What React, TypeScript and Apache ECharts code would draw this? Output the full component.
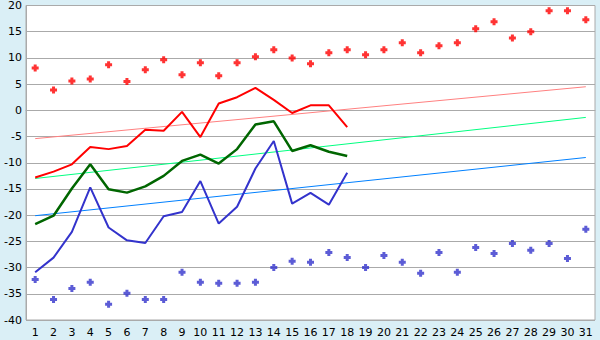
import React, { useEffect, useRef } from "react";
import * as echarts from "echarts";

const categories = Array.from({ length: 31 }, (_, i) => String(i + 1));

const redPoints = [8.1, 3.9, 5.6, 6.0, 8.7, 5.5, 7.75, 9.65, 6.8, 9.1, 6.6, 9.1, 10.2, 11.55, 10.0, 8.9, 11.0, 11.55, 10.6, 11.55, 12.9, 11.0, 12.3, 12.9, 15.55, 16.9, 13.8, 15.0, 19.0, 19.0, 17.3];
const bluePoints = [-32.25, -36.1, -34.0, -32.8, -37.0, -34.9, -36.1, -36.1, -30.9, -32.8, -33.0, -33.0, -32.8, -30.0, -28.8, -29.0, -27.1, -28.1, -30.0, -27.7, -29.0, -31.1, -27.1, -30.9, -26.15, -27.3, -25.4, -26.7, -25.4, -28.25, -22.7];

const redLine = [-12.8, -11.7, -10.3, -7.0, -7.4, -6.8, -3.7, -3.9, -0.3, -5.1, 1.3, 2.5, 4.3, 2.0, -0.5, 0.95, 0.95, -3.2];
const greenLine = [-21.7, -20.1, -14.9, -10.3, -15.05, -15.7, -14.5, -12.5, -9.65, -8.45, -10.15, -7.4, -2.7, -2.1, -7.75, -6.67, -7.9, -8.7];
const blueLine = [-30.9, -28.1, -23.2, -14.7, -22.35, -24.8, -25.3, -20.2, -19.4, -13.5, -21.6, -18.4, -11.1, -5.85, -17.8, -15.75, -18.0, -11.9];

const trendCats = ["1", "31"];
const redTrend = [-5.4, 4.5];
const greenTrend = [-13.0, -1.35];
const blueTrend = [-20.1, -9.0];

const yTicks = { min: -40, max: 20, interval: 5 };

const plus = "path://M2,0H5V2H7V5H5V7H2V5H0V2H2Z";

export default function App() {
  const ref = useRef<HTMLDivElement>(null);
  useEffect(() => {
    document.body.style.margin = "0";
    const chart = echarts.init(ref.current!, null, { renderer: "svg" });
    const font = "DejaVu Sans";
    const trend = (data: number[], color: string) => ({
      type: "line",
      data: trendCats.map((c, i) => [c, data[i]]),
      symbol: "none",
      lineStyle: { color, width: 1 },
      z: 2,
    });
    const line = (data: number[], color: string, width: number) => ({
      type: "line",
      data,
      symbol: "none",
      lineStyle: { color, width },
      z: 3,
    });
    const pts = (data: number[], color: string) => ({
      type: "scatter",
      data,
      symbol: plus,
      symbolSize: 7,
      itemStyle: { color },
      z: 4,
    });
    chart.setOption({
      animation: false,
      backgroundColor: "#daeff6",
      grid: {
        left: 26,
        right: 5,
        top: 5,
        bottom: 20,
        show: true,
        backgroundColor: "#ffffff",
        borderColor: "#aaaaaa",
        borderWidth: 1,
      },
      xAxis: {
        type: "category",
        data: categories,
        boundaryGap: true,
        axisLine: { lineStyle: { color: "#aaaaaa" } },
        axisTick: { alignWithLabel: true, length: 5, lineStyle: { color: "#aaaaaa" } },
        axisLabel: { color: "#000", fontFamily: font, fontSize: 11, margin: 7 },
      },
      yAxis: {
        type: "value",
        min: yTicks.min,
        max: yTicks.max,
        interval: yTicks.interval,
        axisLine: { show: true, lineStyle: { color: "#aaaaaa" } },
        axisTick: { show: false },
        splitLine: { lineStyle: { color: "#aaaaaa" } },
        axisLabel: { color: "#000", fontFamily: font, fontSize: 11, margin: 4 },
      },
      series: [
        trend(redTrend, "#ff8080"),
        trend(greenTrend, "#00ff80"),
        trend(blueTrend, "#0080ff"),
        line(redLine, "#ff0000", 2),
        line(greenLine, "#006600", 2.5),
        line(blueLine, "#3333cc", 2),
        pts(redPoints, "#ff0000"),
        pts(bluePoints, "#3333cc"),
      ],
    });
    return () => chart.dispose();
  }, []);
  return <div ref={ref} style={{ width: 600, height: 340, position: "fixed", left: 0, top: 0 }} />;
}
